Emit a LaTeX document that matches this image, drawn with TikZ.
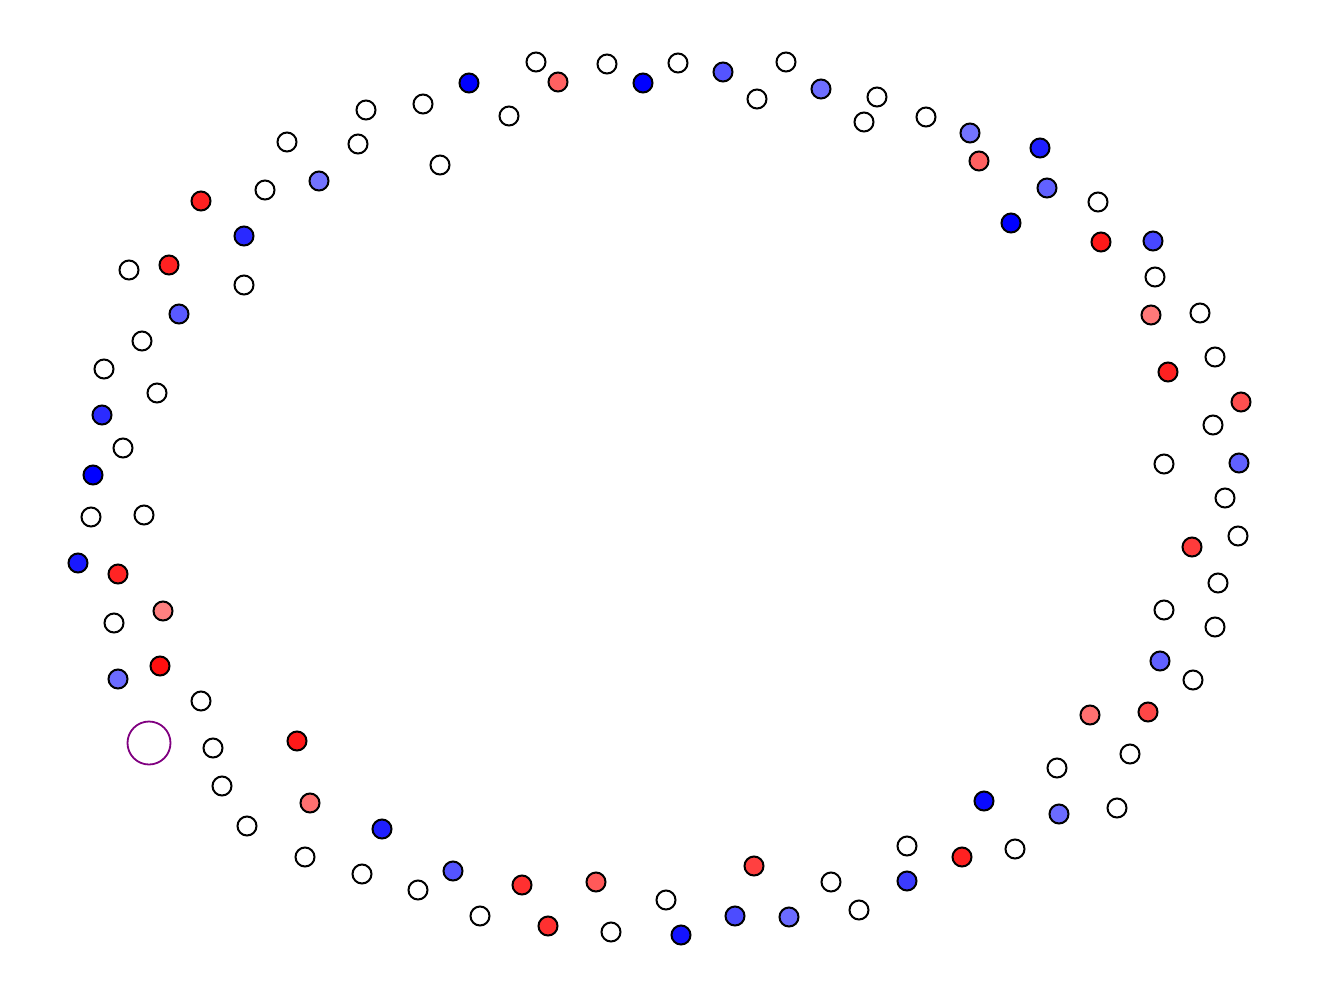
\documentclass[tikz,border=0pt]{standalone}
\usepackage{tikz}
\definecolor{ringpurple}{RGB}{128,0,128}
\begin{document}
\begin{tikzpicture}[x=1pt, y=-1pt]
    \tikzstyle{dot} = [circle, draw=black, line width=2pt, minimum size=19pt, inner sep=0pt, fill=white]
    \tikzstyle{ring} = [circle, draw=ringpurple, line width=1.8pt, minimum size=43pt, inner sep=0pt, fill=white]
    \useasboundingbox (0,0) rectangle (1320,999);

    % Top arc
    \node [dot, fill=blue] (t1) at (469,83) {};
    \node [dot] (t2) at (536,62) {};
    \node [dot] (t3) at (509,116) {};
    \node [dot, fill=red!62] (t4) at (558,82) {};
    \node [dot] (t5) at (607,64) {};
    \node [dot, fill=blue] (t6) at (643,83) {};
    \node [dot] (t7) at (678,63) {};
    \node [dot, fill=blue!67] (t8) at (723,72) {};
    \node [dot] (t9) at (786,62) {};
    \node [dot] (t10) at (757,99) {};
    \node [dot, fill=blue!57] (t11) at (821,89) {};
    \node [dot] (t12) at (877,97) {};
    \node [dot] (t13) at (864,122) {};
    \node [dot] (t14) at (926,117) {};
    \node [dot] (t15) at (366,110) {};
    \node [dot] (t16) at (423,104) {};
    \node [dot] (t17) at (440,165) {};
    \node [dot] (t18) at (358,144) {};
    \node [dot] (t19) at (287,142) {};

    % Upper right
    \node [dot, fill=blue!55] (ur1) at (970,133) {};
    \node [dot, fill=red!62] (ur2) at (979,161) {};
    \node [dot, fill=blue!88] (ur3) at (1040,148) {};
    \node [dot, fill=blue!62] (ur4) at (1047,188) {};
    \node [dot, fill=blue] (ur5) at (1011,223) {};
    \node [dot] (ur6) at (1098,202) {};
    \node [dot, fill=red!90] (ur7) at (1101,242) {};
    \node [dot, fill=blue!72] (ur8) at (1153,241) {};
    \node [dot] (ur9) at (1155,277) {};
    \node [dot, fill=red!53] (ur10) at (1151,315) {};
    \node [dot] (ur11) at (1200,313) {};

    % Right side
    \node [dot] (r1) at (1215,357) {};
    \node [dot, fill=red!87] (r2) at (1168,372) {};
    \node [dot, fill=red!69] (r3) at (1241,402) {};
    \node [dot] (r4) at (1213,425) {};
    \node [dot] (r5) at (1164,464) {};
    \node [dot, fill=blue!62] (r6) at (1239,463) {};
    \node [dot] (r7) at (1225,498) {};
    \node [dot] (r8) at (1238,536) {};
    \node [dot, fill=red!77] (r9) at (1192,547) {};
    \node [dot] (r10) at (1218,583) {};
    \node [dot] (r11) at (1164,610) {};
    \node [dot] (r12) at (1215,627) {};
    \node [dot, fill=blue!62] (r13) at (1160,661) {};
    \node [dot] (r14) at (1193,680) {};
    \node [dot, fill=red!72] (r15) at (1148,712) {};

    % Lower right
    \node [dot, fill=red!56] (lr1) at (1090,715) {};
    \node [dot] (lr2) at (1130,754) {};
    \node [dot] (lr3) at (1057,768) {};
    \node [dot, fill=blue!96] (lr4) at (984,801) {};
    \node [dot] (lr5) at (1117,808) {};
    \node [dot, fill=blue!58] (lr6) at (1059,814) {};
    \node [dot] (lr7) at (1015,849) {};
    \node [dot, fill=red!87] (lr8) at (962,857) {};
    \node [dot] (lr9) at (907,846) {};
    \node [dot, fill=blue!77] (lr10) at (907,881) {};

    % Bottom arc
    \node [dot] (b1) at (831,882) {};
    \node [dot] (b2) at (859,910) {};
    \node [dot, fill=blue!58] (b3) at (789,917) {};
    \node [dot, fill=red!75] (b4) at (754,866) {};
    \node [dot, fill=blue!70] (b5) at (735,916) {};
    \node [dot, fill=blue!92] (b6) at (681,935) {};
    \node [dot] (b7) at (666,900) {};
    \node [dot] (b8) at (611,932) {};
    \node [dot, fill=red!65] (b9) at (596,882) {};
    \node [dot, fill=red!81] (b10) at (548,926) {};
    \node [dot, fill=red!81] (b11) at (522,885) {};
    \node [dot] (b12) at (480,916) {};
    \node [dot, fill=blue!67] (b13) at (453,871) {};
    \node [dot] (b14) at (418,890) {};

    % Lower left
    \node [dot, fill=blue!88] (ll1) at (382,829) {};
    \node [dot] (ll2) at (362,874) {};
    \node [dot] (ll3) at (305,857) {};
    \node [dot, fill=red!56] (ll4) at (310,803) {};
    \node [dot, fill=red!90] (ll5) at (297,741) {};
    \node [dot] (ll6) at (247,826) {};
    \node [dot] (ll7) at (222,786) {};
    \node [dot] (ll8) at (213,748) {};
    \node [ring] (mark) at (149,743) {};
    \node [dot] (ll9) at (201,701) {};
    \node [dot, fill=red!94] (ll10) at (160,666) {};
    \node [dot, fill=blue!58] (ll11) at (118,679) {};
    \node [dot] (ll12) at (114,623) {};
    \node [dot, fill=red!50] (ll13) at (163,611) {};
    \node [dot, fill=red!86] (ll14) at (118,574) {};
    \node [dot, fill=blue!90] (ll15) at (78,563) {};

    % Left side
    \node [dot] (l1) at (91,517) {};
    \node [dot] (l2) at (144,515) {};
    \node [dot, fill=blue] (l3) at (93,475) {};
    \node [dot] (l4) at (123,448) {};
    \node [dot, fill=blue!83] (l5) at (102,415) {};
    \node [dot] (l6) at (157,393) {};
    \node [dot] (l7) at (104,369) {};
    \node [dot] (l8) at (142,341) {};
    \node [dot, fill=blue!65] (l9) at (179,314) {};
    \node [dot] (l10) at (244,285) {};
    \node [dot] (l11) at (129,270) {};
    \node [dot, fill=red!87] (l12) at (169,265) {};
    \node [dot, fill=blue!84] (l13) at (244,236) {};
    \node [dot, fill=red!87] (l14) at (201,201) {};
    \node [dot] (l15) at (265,190) {};
    \node [dot, fill=blue!55] (l16) at (319,181) {};
\end{tikzpicture}
\end{document}
